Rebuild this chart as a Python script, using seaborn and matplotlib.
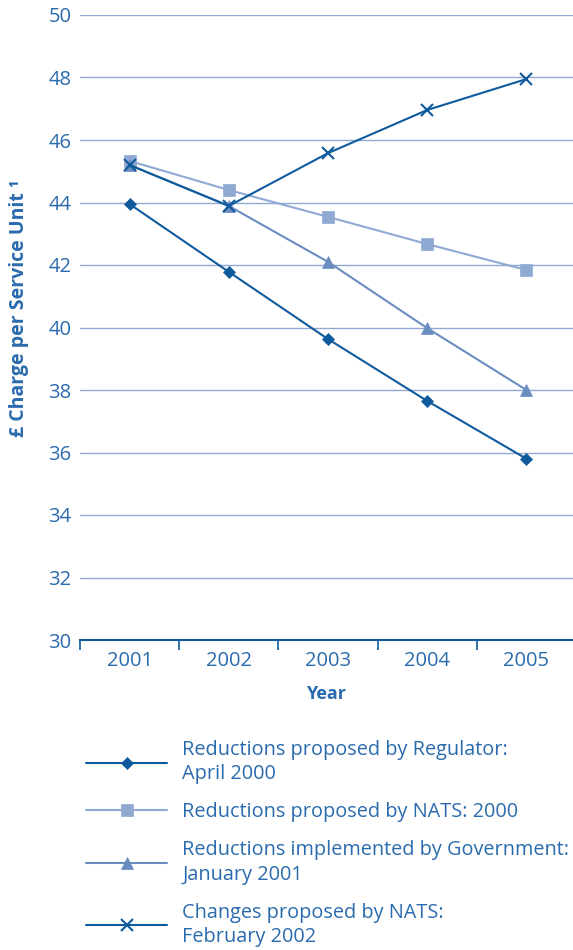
import matplotlib
matplotlib.use("Agg")
import matplotlib.pyplot as plt
import seaborn as sns
import pandas as pd
from matplotlib.ticker import FixedLocator

years = [2001, 2002, 2003, 2004, 2005]
regulator = [43.95, 41.78, 39.63, 37.65, 35.80]
nats_2000 = [45.33, 44.40, 43.54, 42.67, 41.84]
government = [45.20, 43.89, 42.10, 39.98, 38.00]
nats_2002 = [45.20, 43.89, 45.58, 46.96, 47.95]

labels = [
    "Reductions proposed by Regulator:\nApril 2000",
    "Reductions proposed by NATS: 2000",
    "Reductions implemented by Government:\nJanuary 2001",
    "Changes proposed by NATS:\nFebruary 2002",
]
series = [regulator, nats_2000, government, nats_2002]
colors = ["#0f5a9c", "#8fa9d3", "#6a8cc0", "#0f5a9c"]
markers = ["D", "s", "^", "x"]
msizes = [6, 8, 9, 9]

sns.set_theme(style="white")
plt.rcParams["font.family"] = ["Open Sans", "DejaVu Sans"]
text_color = "#2a6bae"

fig = plt.figure(figsize=(5.73, 9.5), dpi=100)
ax = fig.add_axes([80 / 573, 1 - 640 / 950, 1 - 80 / 573, (640 - 15) / 950])

for lab, vals, c, m, ms in zip(labels, series, colors, markers, msizes):
    df = pd.DataFrame({"Year": years, "Value": vals})
    sns.lineplot(data=df, x="Year", y="Value", ax=ax, color=c, marker=m,
                 markersize=ms, linewidth=1.5, label=lab,
                 markeredgecolor=c, markeredgewidth=1.5 if m == "x" else 0.5)

ax.set_ylim(30, 50)
ax.set_xlim(2000.5, 2005.47)
ax.set_yticks(range(30, 51, 2))
ax.yaxis.grid(True, color="#8fa9d3", linewidth=1.0)
ax.set_axisbelow(True)
ax.set_xticks(years)
ax.set_xticklabels([str(y) for y in years])
ax.xaxis.set_minor_locator(FixedLocator([2000.5, 2001.5, 2002.5, 2003.5, 2004.5]))
ax.tick_params(axis="x", which="major", length=0, pad=8, labelsize=14.5, labelcolor=text_color)
ax.tick_params(axis="x", which="minor", length=7, width=1.2, color="#0f5a9c", direction="out", bottom=True)
ax.tick_params(axis="y", length=0, pad=6, labelsize=14.5, labelcolor=text_color)

for s in ["top", "right", "left"]:
    ax.spines[s].set_visible(False)
ax.spines["bottom"].set_color("#0f5a9c")
ax.spines["bottom"].set_linewidth(1.5)

ax.set_xlabel("Year", fontsize=13, fontweight="bold", color=text_color, labelpad=10)
ax.set_ylabel("£ Charge per Service Unit ¹", fontsize=14, fontweight="bold", color=text_color)
ax.yaxis.set_label_coords(-0.104, 0.531)

leg = ax.legend(loc="upper left", bbox_to_anchor=(86 / 573, 1 - 740 / 950),
                bbox_transform=fig.transFigure, frameon=False, fontsize=14.3,
                handlelength=4.1, handletextpad=0.75, labelspacing=0.9,
                borderaxespad=0, borderpad=0)
for t in leg.get_texts():
    t.set_color(text_color)
    t.set_linespacing(1.3)

fig.savefig("out.png", dpi=100)
